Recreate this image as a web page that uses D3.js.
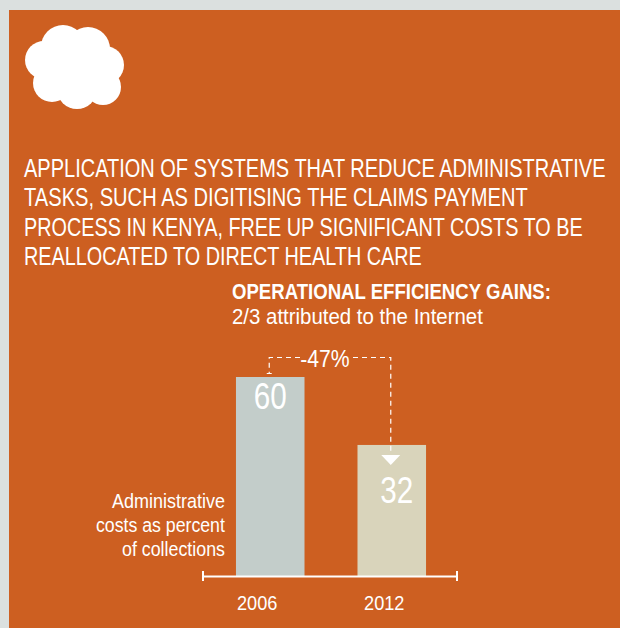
<!DOCTYPE html>
<html>
<head>
<meta charset="utf-8">
<script src="https://cdn.jsdelivr.net/npm/d3@7/dist/d3.min.js"></script>
<style>
html,body{margin:0;padding:0;background:#dbe0df;}
svg{display:block;}
text{font-family:"Liberation Sans",Arial,sans-serif;fill:#fff;}
</style>
</head>
<body>
<svg id="chart" width="620" height="628"></svg>
<script>
// Chart data
const years = ["2006", "2012"];
const costs = [60, 32];
const change = "-47%";
const barColors = ["#c3cdca", "#d9d4bb"];
const headline = [
  "APPLICATION OF SYSTEMS THAT REDUCE ADMINISTRATIVE",
  "TASKS, SUCH AS DIGITISING THE CLAIMS PAYMENT",
  "PROCESS IN KENYA, FREE UP SIGNIFICANT COSTS TO BE",
  "REALLOCATED TO DIRECT HEALTH CARE"
];
const axisNote = ["Administrative", "costs as percent", "of collections"];
const cloudLobes = [[63,47,22],[88,49,22],[44,60,19],[105,65,19],[52,83,19],[77,89,20],[103,87,18],[75,68,30]];

const svg = d3.select("#chart");
const orange = "#cd5f21";

// Places a text with its left, middle or right edge at x and condenses it to a set width
function fitted(parent, str, x, y, width, size, anchor = "start", weight = 400) {
  const t = parent.append("text").attr("font-size", size).attr("font-weight", weight).text(str);
  const sx = width / t.node().getComputedTextLength();
  const left = anchor === "start" ? x : anchor === "end" ? x - width : x - width / 2;
  t.attr("transform", `translate(${left},${y}) scale(${sx},1)`);
  return t;
}

svg.append("rect").attr("x", 9).attr("y", 10).attr("width", 611).attr("height", 618).attr("fill", orange);

// Cloud emblem
svg.append("g").selectAll("circle").data(cloudLobes).join("circle")
  .attr("cx", d => d[0]).attr("cy", d => d[1]).attr("r", d => d[2]).attr("fill", "#fff");

// Headline
const headG = svg.append("g");
headline.forEach((line, i) => fitted(headG, line, 24, 177 + i * 29.3, [582, 504, 559, 398][i], 25));

// Chart title
fitted(svg, "OPERATIONAL EFFICIENCY GAINS:", 232, 298.5, 319, 22, "start", 700);
fitted(svg, "2/3 attributed to the Internet", 232, 323.5, 251, 22);

// Scales: the value axis is offset below zero, so bars stand on a shifted baseline
const baseY = 576;
const x = d3.scaleBand().domain(years).range([204, 458]).paddingInner(0.436).paddingOuter(0.263);
const y = d3.scaleLinear().domain([-22, 60]).range([baseY, 377]);
const mid = year => x(year) + x.bandwidth() / 2;

// Bars
svg.append("g").selectAll("rect").data(costs).join("rect")
  .attr("x", (d, i) => x(years[i])).attr("y", d => y(d))
  .attr("width", x.bandwidth()).attr("height", d => baseY - y(d))
  .attr("fill", (d, i) => barColors[i]);

// Value labels
costs.forEach((v, i) => fitted(svg, String(v), mid(years[i]) + [0, 5][i], [409, 503][i], 33, 36, "middle"));

// Baseline with end caps
const axisG = svg.append("g").attr("transform", `translate(0,${baseY})`);
axisG.append("line").attr("x1", 203).attr("x2", 457).attr("y1", 0.5).attr("y2", 0.5)
  .attr("stroke", "#fff").attr("stroke-width", 2);
[203, 457].forEach(px => axisG.append("line").attr("x1", px).attr("x2", px).attr("y1", -5).attr("y2", 5)
  .attr("stroke", "#fff").attr("stroke-width", 2));

// Year labels sit slightly left of the bars they name
years.forEach((yr, i) => fitted(svg, yr, mid(yr) + [-13, -7.5][i], 610, 40.5, 20, "middle"));

// Axis note
axisNote.forEach((line, i) => fitted(svg, line, 225, 508 + i * 24, [113, 129, 103][i], 21, "end"));

// Dashed change bracket from the first bar to the second
const leftX = mid(years[0]) - 1;
const rightX = mid(years[1]) - 1;
const topY = 357.5;
const dash = svg.append("g").attr("fill", "none").attr("stroke", "#fff").attr("stroke-width", 1.2)
  .attr("stroke-dasharray", "5 4");
dash.append("path").attr("d", d3.line()([[300, topY], [leftX, topY], [leftX, y(costs[0]) - 3]]));
dash.append("path").attr("d", d3.line()([[353, topY], [rightX, topY], [rightX, 451]]));
svg.append("line").attr("x1", leftX - 2.5).attr("x2", leftX + 2.5).attr("y1", 373.5).attr("y2", 373.5)
  .attr("stroke", "#fff");
svg.append("path").attr("fill", "#fff")
  .attr("d", d3.line()([[rightX - 9.5, 455], [rightX + 9.5, 455], [rightX, 465]]) + "Z");
fitted(svg, change, 325, 367, 49.5, 24, "middle");
</script>
</body>
</html>
